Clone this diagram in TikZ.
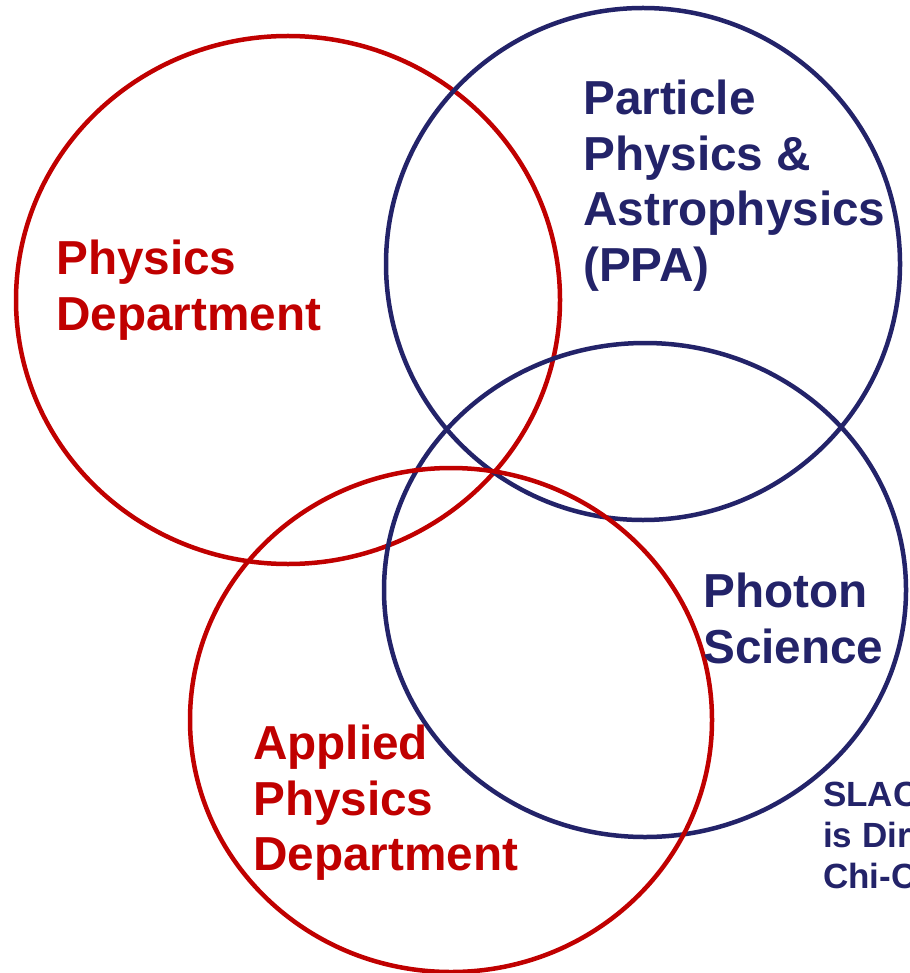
\documentclass[tikz,border=0pt]{standalone}
\usepackage{fontspec}
\setmainfont{Liberation Sans}
\usepackage{xcolor}
\definecolor{deptred}{RGB}{192,0,0}
\definecolor{labnavy}{RGB}{35,35,105}
\tikzset{
  ring/.style={line width=4.5pt},
  redring/.style={ring, draw=deptred},
  navyring/.style={ring, draw=labnavy},
  grp/.style={inner sep=0pt, anchor=north west, align=left, font=\bfseries\fontsize{47.7}{55.5}\selectfont},
  redgrp/.style={grp, text=deptred},
  navygrp/.style={grp, text=labnavy},
  note/.style={inner sep=0pt, anchor=north west, align=left, text=labnavy, font=\bfseries\fontsize{35}{41}\selectfont}
}
\begin{document}
\begin{tikzpicture}[x=1pt, y=-1pt]
\useasboundingbox (0,0) rectangle (909,973);
\clip (0,0) rectangle (909,973);
% circles
\coordinate (cphys) at (288,300);
\coordinate (cppa) at (643,264);
\coordinate (cphoton) at (645,590);
\coordinate (capplied) at (451,720);
\draw[redring] (cphys) ellipse [x radius=272, y radius=264];
\draw[navyring] (cppa) ellipse [x radius=257, y radius=256];
\draw[navyring] (cphoton) ellipse [x radius=261, y radius=247];
\draw[redring] (capplied) ellipse [x radius=261, y radius=252];
% labels
\node[redgrp] (phys) at (56,240) {Physics\\Department};
\node[navygrp] (ppa) at (583,80) {Particle\\Physics \&\\Astrophysics\\(PPA)};
\node[navygrp] (photon) at (703,573) {Photon\\Science};
\node[redgrp] (applied) at (253,725) {Applied\\Physics\\Department};
\node[note] (slac) at (823,782) {SLAC\\is Dir\\Chi-C};
\end{tikzpicture}
\end{document}
